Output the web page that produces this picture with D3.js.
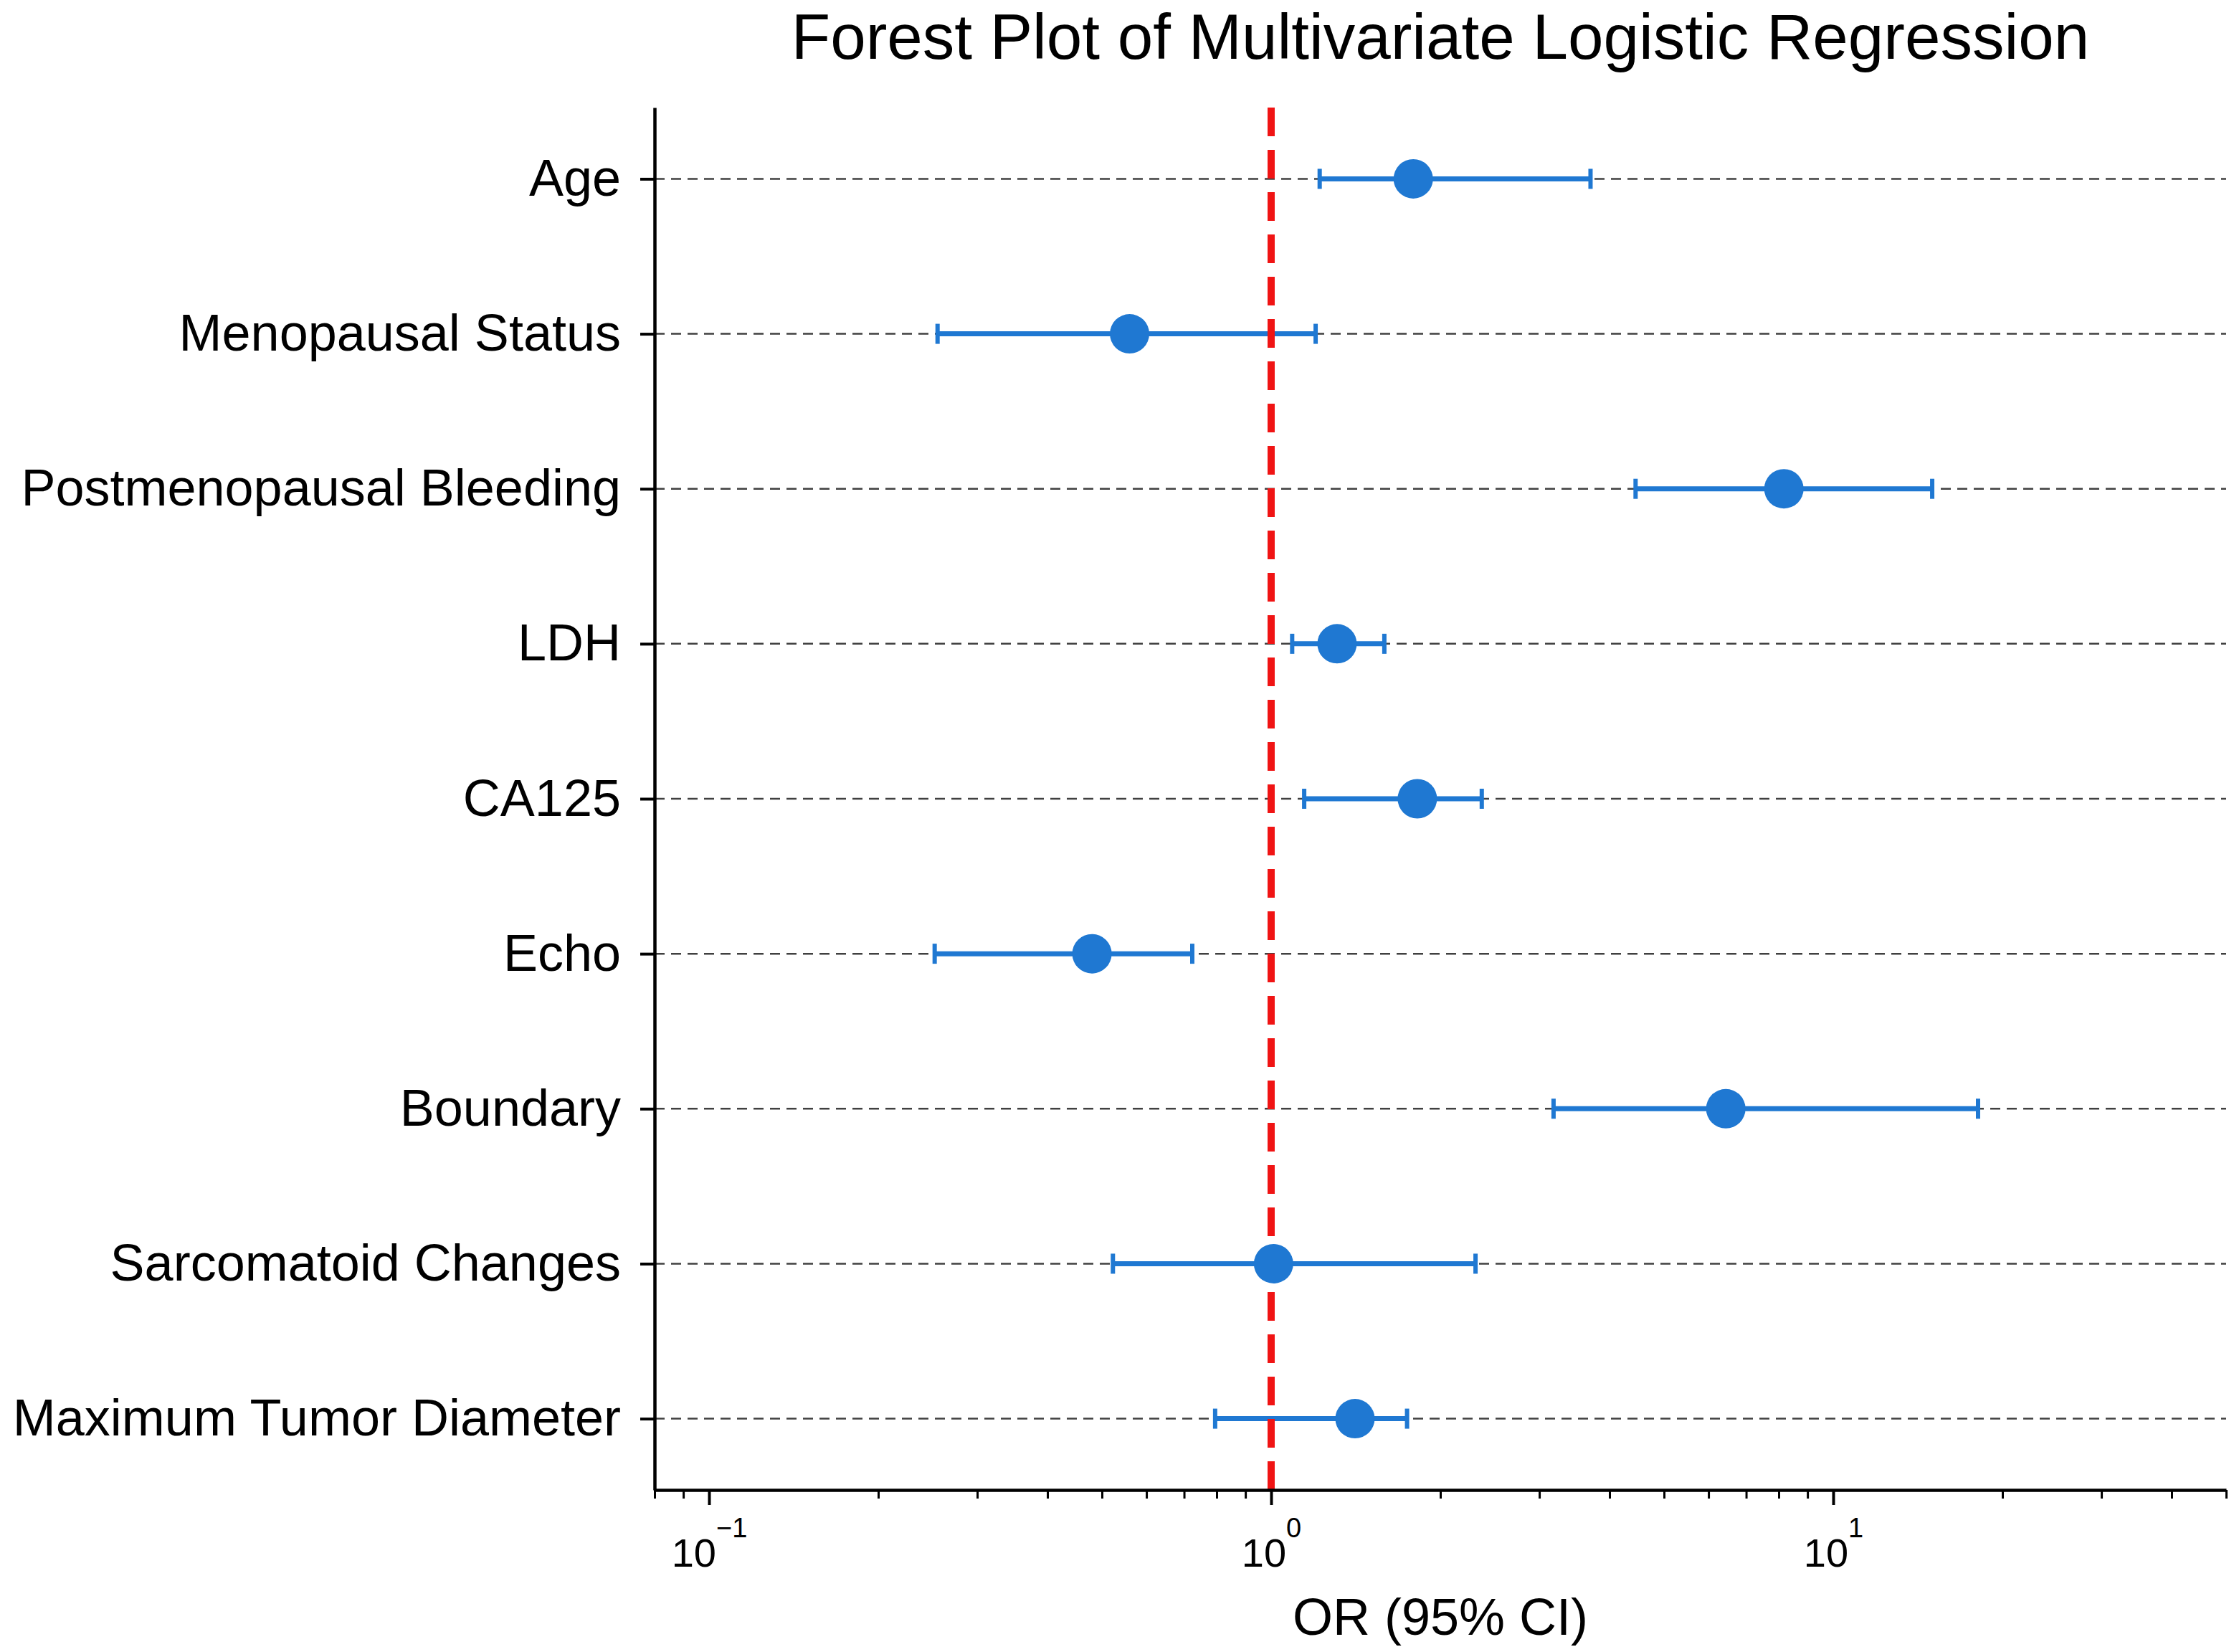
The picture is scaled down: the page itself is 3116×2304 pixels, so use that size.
<!DOCTYPE html>
<html>
<head>
<meta charset="utf-8">
<script src="https://cdn.jsdelivr.net/npm/d3@7"></script>
<style>
  html, body { margin: 0; padding: 0; background: #fff; }
  svg { display: block; font-family: "Liberation Sans", Arial, sans-serif; }
</style>
</head>
<body>
<div id="forest"></div>
<script>
// Data
const labels = [
  "Age",
  "Menopausal Status",
  "Postmenopausal Bleeding",
  "LDH",
  "CA125",
  "Echo",
  "Boundary",
  "Sarcomatoid Changes",
  "Maximum Tumor Diameter",
];
const orValues = [1.79, 0.56, 8.17, 1.31, 1.82, 0.48, 6.44, 1.01, 1.41];
const ciLower = [1.22, 0.255, 4.45, 1.09, 1.145, 0.252, 3.18, 0.523, 0.795];
const ciUpper = [3.7, 1.2, 15.0, 1.59, 2.37, 0.724, 18.1, 2.31, 1.745];
const majorTicks = [0.1, 1, 10];
const majorExponents = ["\u22121", "0", "1"];

// Controlling constants
const svgWidth = 3116,
  svgHeight = 2304;
const margin = { top: 150, right: 11, bottom: 226, left: 913 },
  width = svgWidth - margin.left - margin.right,
  height = svgHeight - margin.top - margin.bottom;
const blue = "#1f78d2";

const svg = d3
  .select("#forest")
  .append("svg")
  .attr("width", svgWidth)
  .attr("height", svgHeight);

const g = svg
  .append("g")
  .attr("transform", "translate(" + margin.left + "," + margin.top + ")");

// scales
const x = d3.scaleLog().domain([0.08, 50]).range([0, width]);
const y = d3.scalePoint().domain(labels).range([0, height]).padding(0.46);

const rows = labels.map((d, i) => ({
  label: d,
  or: orValues[i],
  lo: ciLower[i],
  hi: ciUpper[i],
}));

// horizontal dashed grid
g.selectAll(".grid")
  .data(labels)
  .enter()
  .append("line")
  .attr("class", "grid")
  .attr("x1", 0)
  .attr("x2", width)
  .attr("y1", (d) => y(d))
  .attr("y2", (d) => y(d))
  .attr("stroke", "#000")
  .attr("stroke-opacity", 0.75)
  .attr("stroke-width", 2.5)
  .attr("stroke-dasharray", "14,9");

// error bars
g.selectAll(".ci")
  .data(rows)
  .enter()
  .append("line")
  .attr("class", "ci")
  .attr("x1", (d) => x(d.lo))
  .attr("x2", (d) => x(d.hi))
  .attr("y1", (d) => y(d.label))
  .attr("y2", (d) => y(d.label))
  .attr("stroke", blue)
  .attr("stroke-width", 7);

const caps = rows.flatMap((d) => [
  { label: d.label, v: d.lo },
  { label: d.label, v: d.hi },
]);
g.selectAll(".cap")
  .data(caps)
  .enter()
  .append("line")
  .attr("class", "cap")
  .attr("x1", (d) => x(d.v))
  .attr("x2", (d) => x(d.v))
  .attr("y1", (d) => y(d.label) - 14)
  .attr("y2", (d) => y(d.label) + 14)
  .attr("stroke", blue)
  .attr("stroke-width", 6);

// reference line at OR = 1 (drawn bottom to top)
g.append("line")
  .attr("x1", x(1))
  .attr("x2", x(1))
  .attr("y1", height)
  .attr("y2", 0)
  .attr("stroke", "#f01414")
  .attr("stroke-width", 10)
  .attr("stroke-dasharray", "40,19");

// points
g.selectAll(".pt")
  .data(rows)
  .enter()
  .append("circle")
  .attr("class", "pt")
  .attr("cx", (d) => x(d.or))
  .attr("cy", (d) => y(d.label))
  .attr("r", 27.5)
  .attr("fill", blue);

// Y axis
const yAxis = g
  .append("g")
  .call(d3.axisLeft(y).tickSize(20).tickSizeOuter(0).tickPadding(27));
yAxis.select(".domain").attr("stroke", "#000").attr("stroke-width", 4.5);
yAxis.selectAll(".tick line").attr("stroke", "#000").attr("stroke-width", 4);
yAxis
  .selectAll(".tick text")
  .attr("font-size", 72)
  .attr("font-family", '"Liberation Sans", Arial, sans-serif')
  .attr("fill", "#000");

// X axis: minor ticks
const minorTicks = x.ticks().filter((v) => !majorTicks.some((m) => Math.abs(m - v) < 1e-9));
const xMinor = g
  .append("g")
  .attr("transform", "translate(0," + height + ")")
  .call(
    d3.axisBottom(x).tickValues(minorTicks).tickSize(12).tickSizeOuter(0).tickFormat(() => "")
  );
xMinor.select(".domain").remove();
xMinor.selectAll(".tick line").attr("stroke", "#000").attr("stroke-width", 3);

// X axis: major ticks
const xAxis = g
  .append("g")
  .attr("transform", "translate(0," + height + ")")
  .call(
    d3.axisBottom(x).tickValues(majorTicks).tickSize(21).tickSizeOuter(0).tickFormat(() => "")
  );
xAxis.select(".domain").attr("stroke", "#000").attr("stroke-width", 4.5);
xAxis.selectAll(".tick line").attr("stroke", "#000").attr("stroke-width", 4);
xAxis.selectAll(".tick text").remove();

const tickText = xAxis
  .selectAll(".tick")
  .append("text")
  .attr("y", 107)
  .attr("text-anchor", "middle")
  .attr("fill", "#000")
  .attr("font-family", '"Liberation Sans", Arial, sans-serif');
tickText.append("tspan").attr("font-size", 56).text("10");
tickText
  .append("tspan")
  .attr("font-size", 38)
  .attr("dy", -41)
  .text((d, i) => majorExponents[i]);

// X label
svg
  .append("text")
  .attr("x", margin.left + width / 2)
  .attr("y", 2280)
  .attr("text-anchor", "middle")
  .attr("font-size", 72)
  .attr("fill", "#000")
  .text("OR (95% CI)");

// Title
svg
  .append("text")
  .attr("x", margin.left + width / 2)
  .attr("y", 82)
  .attr("text-anchor", "middle")
  .attr("font-size", 89)
  .attr("fill", "#000")
  .text("Forest Plot of Multivariate Logistic Regression");
</script>
</body>
</html>
